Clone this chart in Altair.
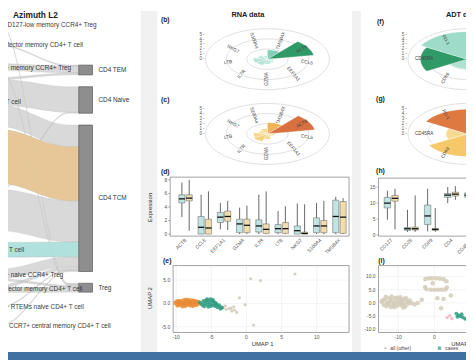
import altair as alt
import pandas as pd

W, H = 466, 355
FONT = "Liberation Sans"


def P(p):
    return p - 8


def sx(field, dom, rng):
    return alt.X(f"{field}:Q", scale=alt.Scale(domain=list(dom), range=[P(rng[0]), P(rng[1])], nice=False, zero=False), axis=None)


def sy(field, dom, rng):
    return alt.Y(f"{field}:Q", scale=alt.Scale(domain=list(dom), range=[P(rng[0]), P(rng[1])], nice=False, zero=False), axis=None)


# ---------------- data ----------------
left_nodes = [
    "CD25-high CD127-low memory CCR4+ Treg",
    "CD45RO+ effector memory CD4+ T cell",
    "CD4+ CD25+ memory CCR4+ Treg",
    "naive CD4+ T cell",
    "TCM cell",
    "TEM cell",
    "thymic CD4+ T cell",
    "CD4+ CD25+ naive CCR4+ Treg",
    "CD45RA+ effector memory CD4+ T cell",
    "CD4+ CD31+ RTEMs naive CD4+ T cell",
    "CD4-positive CCR7+ central memory CD4+ T cell",
]
right_nodes = ["CD4 TEM", "CD4 Naive", "CD4 TCM", "Treg"]
flow_source = [0, 1, 2, 2, 3, 3, 3, 4, 5, 5, 6, 7, 7, 8, 8, 9, 10]
flow_target = [3, 0, 0, 3, 0, 1, 2, 2, 1, 2, 2, 2, 3, 2, 3, 2, 2]
flow_value = [1, 1, 7, 1, 2, 26, 22, 55, 1, 42, 15, 10, 2, 3, 5, 1, 1]
source_colour = ["#c9c9c9", "#c9c9c9", "#c9c9c9", "#c9c9c9", "#e6c592", "#c9c9c9",
                 "#ade0dc", "#c9c9c9", "#c9c9c9", "#c9c9c9", "#c9c9c9"]

rna_genes = ["ACTB", "CCL5", "EEF1A1", "GZMA", "IL7R", "LTB", "NKG7", "S100A4", "TMSB4X"]
polar_genes = ["TMSB4X", "ACTB", "CCL5", "EEF1A1", "GZMA", "IL7R", "LTB", "NKG7", "S100A4"]
b_vals = [1.9, 4.7, 0.6, 0.8, 1.0, 1.3, 1.4, 1.0, 0.7]
b_int = [0.55, 1.0, 0.15, 0.15, 0.2, 0.25, 0.25, 0.2, 0.15]
c_vals = [2.3, 4.8, 0.7, 0.6, 1.1, 1.6, 1.4, 0.9, 1.1]
c_int = [0.6, 1.0, 0.2, 0.15, 0.25, 0.35, 0.3, 0.2, 0.25]

adt = ["CD4", "CD25", "CD127", "CD69", "CD45RA", "PD-1"]
f_vals = [3.6, 1.6, 1.4, 2.0, 4.9, 5.6]
f_int = [0.35, 0.2, 0.15, 0.3, 1.0, 0.4]
g_vals = [3.4, 1.5, 1.3, 4.6, 2.2, 5.0]
g_int = [0.55, 0.2, 0.15, 0.45, 0.25, 0.95]

# box statistics (min, q1, median, q3, max)
d_a = [[2.5, 0.0, 0.7, 0.0, 0.0, 0.0, 0.0, 0.0, 0.0],
       [4.6, 0.0, 1.7, 0.2, 0.3, 0.2, 0.0, 0.2, 0.2],
       [5.2, 1.0, 2.5, 1.5, 1.2, 0.8, 0.5, 1.2, 2.6],
       [5.8, 2.6, 3.2, 2.2, 2.1, 1.4, 1.2, 2.4, 5.0],
       [7.6, 5.8, 4.6, 3.9, 5.8, 3.4, 4.5, 4.6, 5.5]]
d_b = [[0.5, 0.0, 0.6, 0.0, 0.0, 0.0, 0.0, 0.0, 0.0],
       [4.9, 0.0, 1.9, 0.2, 0.1, 0.1, 0.0, 0.2, 0.1],
       [5.3, 0.9, 2.6, 1.3, 0.7, 0.8, 0.1, 1.2, 2.5],
       [5.8, 2.2, 3.4, 2.2, 1.5, 1.7, 0.3, 2.0, 4.8],
       [8.0, 6.3, 4.9, 4.2, 6.3, 4.1, 4.4, 4.9, 5.3]]
h_prot = ["CD127", "CD25", "CD69", "CD4", "CD45RA"]
h_a = [[4.8, 1.0, 1.2, 10.0, 10.5],
       [8.5, 1.5, 3.3, 11.8, 11.8],
       [10.0, 2.0, 6.0, 12.5, 12.5],
       [11.8, 2.4, 9.4, 13.0, 13.2],
       [13.9, 7.9, 14.5, 15.0, 14.5]]
h_b = [[1.8, 1.0, 1.0, 11.0, 10.8],
       [10.6, 1.6, 1.5, 12.2, 12.0],
       [11.5, 2.0, 1.8, 12.8, 12.6],
       [12.4, 2.5, 2.1, 13.4, 13.3],
       [14.5, 12.4, 8.5, 15.3, 14.8]]

# UMAP (RNA)
e_a_x = [-10.1, -9.8, -9.6, -9.5, -9.3, -9.1, -9.0, -8.8, -8.7, -8.5, -8.4, -8.2, -8.0, -7.9, -7.7,
         -7.5, -7.3, -7.1, -6.9, -6.7, -9.9, -9.4, -8.9, -8.6, -8.1, -7.6, -7.2, -9.7, -8.3, -7.8]
e_a_y = [0.1, -0.4, 0.5, -0.2, 0.3, -0.6, 0.6, 0.0, -0.5, 0.4, -0.2, 0.7, -0.4, 0.2, -0.1,
         0.5, 0.0, -0.3, 0.3, 0.0, 0.4, 0.0, -0.2, 0.8, 0.0, -0.5, 0.4, -0.1, 0.3, 0.6]
e_b_x = [-6.6, -6.3, -6.1, -5.9, -5.7, -5.5, -5.3, -5.1, -4.9, -4.7, -4.5, -4.3, -4.1, -3.9, -3.7,
         -3.5, -6.0, -5.4, -4.8, -4.4, -5.0, -5.6]
e_b_y = [0.2, -0.3, 0.5, 0.0, 0.6, -0.2, 0.3, 0.9, -0.1, 0.4, -0.5, -0.2, -0.8, -0.4, -1.1,
         -0.9, -0.6, -0.7, 0.7, 0.1, -0.5, 0.9]
e_o_x = [-3.3, -2.9, -2.5, -2.1, -1.7, -1.4, -3.0, -2.2, 0.6, -1.0, 1.0, 6.9, 2.0, -0.2, -1.8]
e_o_y = [-0.9, -1.3, -1.1, -1.6, -1.4, -1.9, -0.5, -1.0, 5.3, 1.2, -4.6, 6.3, 4.9, -0.3, -0.7]

# UMAP (ADT)
i_o_x = [-14.5, -14.0, -13.6, -13.2, -12.8, -12.4, -12.0, -11.6, -11.2, -10.8, -10.4, -10.0, -9.6,
         -9.2, -8.8, -8.4, -8.0, -7.6, -7.2, -6.8, -6.4, -14.2, -13.4, -12.6, -11.8, -11.0, -10.2,
         -9.4, -8.6, -7.8, -13.0, -12.2, -11.4, -10.6, -9.8, -9.0, -8.2,
         -2.5, -1.5, -0.5, 0.5, 1.5, 2.5, 3.3, -2.6, -2.2, 3.4, 3.0, -1.0, 0.0, 1.0, 2.0,
         -4.6, 0.8, -0.5, -3.5, 2.5, 4.5, -5.5, 1.8]
i_o_y = [0.5, -0.6, 1.4, -1.2, 0.2, 1.8, -1.5, 0.8, -0.4, 1.9, -1.0, 0.4, 1.2, -0.8, 0.0,
         1.6, -1.3, 0.6, -0.2, 0.9, 0.0, 1.0, 2.3, -0.5, 2.4, -1.6, 2.0, 2.1, -1.7, 1.8,
         -0.1, 0.6, -0.8, 0.3, -0.3, 0.5, -0.6,
         9.0, 9.3, 9.3, 9.3, 9.2, 9.0, 8.2, 6.0, 5.2, 5.8, 5.1, 5.0, 5.0, 5.0, 5.0,
         0.0, 1.8, 7.4, 1.2, 1.5, 2.8, -0.5, -2.0]
i_g_x = [6.0, 6.6, 7.2, 7.8, 8.4, 9.0, 6.3, 7.5]
i_g_y = [-4.0, -4.6, -5.0, -5.4, -5.9, -6.2, -5.2, -4.2]
i_p_x = [3.5, 4.2, 4.8]
i_p_y = [-5.5, -4.8, -5.9]

layers = []

# ---------------- background ----------------
one = pd.DataFrame({"a": [0]})
for x0, x1 in [(143, 160), (358, 367)]:
    layers.append(alt.Chart(one).mark_rect(color="#f1f1f1").encode(
        x=alt.value(P(x0)), x2=alt.value(P(x1)), y=alt.value(0), y2=alt.value(H)))
layers.append(alt.Chart(one).mark_rect(color="#4170a3").encode(
    x=alt.value(0), x2=alt.value(W), y=alt.value(P(355)), y2=alt.value(H)))

# ---------------- Sankey ----------------
SKX = (-10, 80)
left_top = 21.5
left_gaps = [20, 18, 6, 3, 5, 12, 12, 4, 14, 18]
right_top, right_gap = 63, 12
nF = len(flow_value)
left_tot = [sum(v for s, v in zip(flow_source, flow_value) if s == i) for i in range(len(left_nodes))]
right_tot = [sum(v for t, v in zip(flow_target, flow_value) if t == j) for j in range(len(right_nodes))]
left_y0, y = [], left_top
for i, v in enumerate(left_tot):
    left_y0.append(y)
    y += v + (left_gaps[i] if i < len(left_gaps) else 0)
right_y0, y = [], right_top
for v in right_tot:
    right_y0.append(y)
    y += v + right_gap
lcur, fl = list(left_y0), {}
for f in sorted(range(nF), key=lambda f: (flow_source[f], flow_target[f])):
    fl[f] = lcur[flow_source[f]]
    lcur[flow_source[f]] += flow_value[f]
rcur, fr = list(right_y0), {}
for f in sorted(range(nF), key=lambda f: (flow_target[f], flow_source[f])):
    fr[f] = rcur[flow_target[f]]
    rcur[flow_target[f]] += flow_value[f]
rows = []
for f in range(nF):
    col = source_colour[flow_source[f]]
    op = 0.7 if col == "#c9c9c9" else 0.95
    for xx in [0, 0.12, 0.88, 1]:
        y0 = fl[f] if xx < 0.5 else fr[f]
        rows.append(dict(fid=f, x=xx, y0=y0, y1=y0 + flow_value[f], col=col, op=op, z=0 if op < 0.9 else 1))
sk = pd.DataFrame(rows).sort_values(["z", "fid", "x"])
layers.append(alt.Chart(sk).mark_area(interpolate="monotone", clip=True, stroke="#a8a8a8", strokeWidth=0.3).encode(
    x=sx("x", (0, 1), SKX), y=sy("y0", (0, 363), (0, 363)), y2=alt.Y2("y1"),
    detail="fid:N", fill=alt.Fill("col:N", scale=None), opacity=alt.Opacity("op:Q", scale=None)))
rn = pd.DataFrame({"name": right_nodes, "y0": right_y0, "y1": [a + b for a, b in zip(right_y0, right_tot)]})
rn["yc"] = (rn.y0 + rn.y1) / 2
layers.append(alt.Chart(rn).mark_rect(fill="#8e8e8e", stroke="#5c5c5c", strokeWidth=0.7).encode(
    x=alt.value(P(80)), x2=alt.value(P(94)), y=sy("y0", (0, 363), (0, 363)), y2=alt.Y2("y1")))
layers.append(alt.Chart(rn).mark_text(align="left", baseline="middle", fontSize=6.5, font=FONT, color="#333").encode(
    x=alt.value(P(100)), y=sy("yc", (0, 363), (0, 363)), text="name:N"))
ln = pd.DataFrame({"name": left_nodes, "yc": [a + v / 2 for a, v in zip(left_y0, left_tot)]})
layers.append(alt.Chart(ln).mark_text(align="left", baseline="middle", fontSize=6.5, font=FONT, color="#3a3a3a", clip=True).encode(
    x=alt.value(P(-30)), y=sy("yc", (0, 363), (0, 363)), text="name:N"))

# ---------------- titles / panel letters ----------------
titles = [("Azimuth L2", 36, 12, 8.5), ("RNA data", 252, 12, 7.5), ("ADT data", 470, 12, 7.5)]
for t, x, yv, fs in titles:
    layers.append(alt.Chart(pd.DataFrame({"t": [t]})).mark_text(fontSize=fs, font=FONT, color="#222", fontWeight="bold").encode(
        x=alt.value(P(x)), y=alt.value(P(yv)), text="t:N"))
letters = [("(b)", 168, 17), ("(c)", 168, 99), ("(d)", 168, 172), ("(e)", 170, 262),
           ("(f)", 387, 19), ("(g)", 387, 98), ("(h)", 387, 171), ("(i)", 388, 262)]
for t, x, yv in letters:
    layers.append(alt.Chart(pd.DataFrame({"t": [t]})).mark_text(fontSize=7, font=FONT, color="#222", fontWeight="bold").encode(
        x=alt.value(P(x)), y=alt.value(P(yv)), text="t:N"))


# ---------------- polar panels ----------------
def polar(cats, vals, intens, cen, hw, hh, R, start, crange, label_r, ticks):
    cxp, cyp = cen
    n = len(cats)
    step = 360 / n
    xs = sx("px", (-R, R), (cxp - hw, cxp + hw))
    ys = sy("py", (-R, R), (cyp + hh, cyp - hh))
    calc = dict(px="datum.r*sin(datum.ang*PI/180)", py="datum.r*cos(datum.ang*PI/180)")
    out = []
    ring_rows = [dict(ring=rr, ang=a, r=rr) for rr in [R / 3, 2 * R / 3, R] for a in range(0, 360, 6)]
    out.append(alt.Chart(pd.DataFrame(ring_rows)).transform_calculate(**calc).mark_line(
        interpolate="linear-closed", color="#d4d4d4", strokeWidth=0.7).encode(
        x=xs, y=ys, detail="ring:N", order="ang:Q"))
    w_rows = []
    for k, (v, t) in enumerate(zip(vals, intens)):
        mid = start + k * step
        w_rows.append(dict(k=k, o=0, ang=mid, r=0.0, c=t))
        for j in range(9):
            w_rows.append(dict(k=k, o=j + 1, ang=mid - step / 2 + step * j / 8, r=v, c=t))
    out.append(alt.Chart(pd.DataFrame(w_rows)).transform_calculate(**calc).mark_line(
        interpolate="linear-closed", color="#ffffff", strokeWidth=0.3).encode(
        x=xs, y=ys, detail="k:N", order="o:Q",
        fill=alt.Fill("c:Q", scale=alt.Scale(domain=[0, 0.5, 1], range=crange), legend=None)))
    l_rows = [dict(lab=c, ang=start + k * step, r=label_r) for k, c in enumerate(cats)]
    out.append(alt.Chart(pd.DataFrame(l_rows)).transform_calculate(
        rot="(((datum.ang % 360) < 180 ? (datum.ang % 360) - 90 : (datum.ang % 360) - 270) + 360) % 360", **calc
    ).mark_text(fontSize=4.8, font=FONT, color="#444").encode(
        x=xs, y=ys, text="lab:N", angle=alt.Angle("rot:Q", scale=None)))
    t_rows = [dict(py=t, lab=f"{t} -") for t in ticks]
    out.append(alt.Chart(pd.DataFrame(t_rows)).mark_text(align="right", baseline="middle", fontSize=4.5, font=FONT, color="#555").encode(
        x=alt.value(P(cxp - hw - 1)), y=ys, text="lab:N"))
    return out


GREEN = ["#dcf3ec", "#8ed5bf", "#2f9a68"]
ORANGE = ["#fdf0c6", "#f5c460", "#d9703f"]
layers += polar(polar_genes, b_vals, b_int, (272, 57), 63, 31, 6.2, 20, GREEN, 4.0, [0, 1, 2, 3, 4, 5])
layers += polar(polar_genes, c_vals, c_int, (272, 133), 63, 31, 6.2, 20, ORANGE, 4.0, [0, 1, 2, 3, 4, 5])
layers += polar(adt, f_vals, f_int, (475, 57), 60, 31, 6.2, 30, GREEN, 4.5, [0, 1, 2, 3, 4, 5])
layers += polar(adt, g_vals, g_int, (475, 133), 60, 31, 6.2, 30, ORANGE, 4.5, [0, 1, 2, 3, 4, 5])


# ---------------- box panels ----------------
def frame(x0, x1, y0, y1):
    return alt.Chart(one).mark_rect(fillOpacity=0, stroke="#8a8a8a", strokeWidth=0.8).encode(
        x=alt.value(P(x0)), x2=alt.value(P(x1)), y=alt.value(P(y0)), y2=alt.value(P(y1)))


def boxes(cats, A, B, xdom, xr, ydom, yr, ticks, frm):
    out = [frame(*frm)]
    rows = []
    for i in range(len(cats)):
        for g, S, col in [(0, A, "#bfe4e1"), (1, B, "#f0dcae")]:
            rows.append(dict(i=i, g=g, mn=S[0][i], q1=S[1][i], md=S[2][i], q3=S[3][i], mx=S[4][i], col=col))
    base = alt.Chart(pd.DataFrame(rows)).transform_calculate(
        xc="datum.i + (datum.g == 0 ? -0.19 : 0.19)",
        xl="datum.i + (datum.g == 0 ? -0.35 : 0.03)",
        xr="datum.i + (datum.g == 0 ? -0.03 : 0.35)")
    out.append(base.mark_rule(color="#666", strokeWidth=1.0).encode(
        x=sx("xc", xdom, xr), y=sy("mn", ydom, yr), y2=alt.Y2("mx")))
    out.append(base.mark_rect(stroke="#5e5e5e", strokeWidth=0.5).encode(
        x=sx("xl", xdom, xr), x2=alt.X2("xr"), y=sy("q1", ydom, yr), y2=alt.Y2("q3"),
        fill=alt.Fill("col:N", scale=None)))
    out.append(base.mark_rule(color="#111", strokeWidth=1.3).encode(
        x=sx("xl", xdom, xr), x2=alt.X2("xr"), y=sy("md", ydom, yr)))
    td = pd.DataFrame({"t": ticks, "lab": [str(t) for t in ticks]})
    out.append(alt.Chart(td).mark_text(align="right", baseline="middle", fontSize=5, font=FONT, color="#555").encode(
        x=alt.value(P(frm[0] - 3)), y=sy("t", ydom, yr), text="lab:N"))
    out.append(alt.Chart(td).mark_rule(color="#777", strokeWidth=0.6).encode(
        x=alt.value(P(frm[0] - 2)), x2=alt.value(P(frm[0])), y=sy("t", ydom, yr)))
    cd = pd.DataFrame({"i": list(range(len(cats))), "lab": cats})
    out.append(alt.Chart(cd).mark_text(align="right", baseline="middle", angle=315, fontSize=5, font=FONT, color="#555").encode(
        x=sx("i", xdom, xr), y=alt.value(P(frm[3] + 3)), text="lab:N"))
    return out


layers += boxes(rna_genes, d_a, d_b, (-0.8, 8.5), (173, 355), (-0.3, 8.4), (237, 177), [0, 2, 4, 6, 8], (173, 355, 177, 237))
layers += boxes(h_prot, h_a, h_b, (-0.63, 4.5), (385, 490), (-0.3, 17.8), (237, 178), [0, 5, 10, 15], (385, 490, 178, 237))


# ---------------- UMAP panels ----------------
def umap(groups, xdom, xr, ydom, yr, xt, yt, frm):
    out = []
    gx = pd.DataFrame({"t": xt})
    gy = pd.DataFrame({"t": yt})
    out.append(alt.Chart(gx).mark_rule(color="#ececec", strokeWidth=0.6).encode(
        x=sx("t", xdom, xr), y=alt.value(P(frm[2])), y2=alt.value(P(frm[3]))))
    out.append(alt.Chart(gy).mark_rule(color="#ececec", strokeWidth=0.6).encode(
        y=sy("t", ydom, yr), x=alt.value(P(frm[0])), x2=alt.value(P(frm[1]))))
    out.append(frame(*frm))
    for xs_, ys_, col, size in groups:
        out.append(alt.Chart(pd.DataFrame({"x": xs_, "y": ys_})).mark_circle(size=size, opacity=0.85, color=col).encode(
            x=sx("x", xdom, xr), y=sy("y", ydom, yr)))
    gx["lab"] = [str(t) for t in xt]
    gy["lab"] = [f"{t:.1f}" for t in yt]
    out.append(alt.Chart(gx).mark_text(baseline="top", fontSize=5, font=FONT, color="#555").encode(
        x=sx("t", xdom, xr), y=alt.value(P(frm[3] + 3)), text="lab:N"))
    out.append(alt.Chart(gy).mark_text(align="right", baseline="middle", fontSize=5, font=FONT, color="#555").encode(
        y=sy("t", ydom, yr), x=alt.value(P(frm[0] - 3)), text="lab:N"))
    return out


layers += umap([(e_o_x, e_o_y, "#cfc8b6", 10), (e_a_x, e_a_y, "#e98b35", 22), (e_b_x, e_b_y, "#2b9c80", 18)],
               (-11, 14.6), (172, 355), (-6.2, 8.1), (335, 267), [-10, -5, 0, 5, 10], [-5.0, 0.0, 5.0],
               (176, 355, 267, 335))
layers += umap([(i_o_x, i_o_y, "#d3ccba", 22), (i_g_x, i_g_y, "#2b9c80", 14), (i_p_x, i_p_y, "#f2b3c4", 12)],
               (-15.4, 10.3), (385, 480), (-11.1, 14.1), (335, 267), [-10, 0], [-10.0, -5.0, 0.0, 5.0, 10.0],
               (385, 480, 267, 335))

# axis titles
for t, x, yv, ang in [("Expression", 153, 208, 270), ("UMAP 2", 153, 300, 270), ("UMAP 1", 267, 347, 0), ("UMAP 1", 470, 347, 0)]:
    layers.append(alt.Chart(pd.DataFrame({"t": [t]})).mark_text(fontSize=6, font=FONT, color="#333", angle=ang).encode(
        x=alt.value(P(x)), y=alt.value(P(yv)), text="t:N"))

# legend
layers.append(alt.Chart(one).mark_circle(size=6, color="#bbbbbb").encode(x=alt.value(P(392)), y=alt.value(P(351))))
layers.append(alt.Chart(one).mark_square(size=12, color="#2b9c80").encode(x=alt.value(P(447)), y=alt.value(P(351))))
for t, x in [("all (other)", 397), ("cases", 453)]:
    layers.append(alt.Chart(pd.DataFrame({"t": [t]})).mark_text(align="left", fontSize=5, font=FONT, color="#444").encode(
        x=alt.value(P(x)), y=alt.value(P(351)), text="t:N"))

chart = alt.layer(*layers).resolve_scale(
    x="independent", y="independent", fill="independent", color="independent", opacity="independent"
).properties(width=W, height=H, padding=0, autosize=alt.AutoSizeParams(type="none")).configure_view(stroke=None)

chart.save("out.html", embed_options={"renderer": "svg", "actions": False})
